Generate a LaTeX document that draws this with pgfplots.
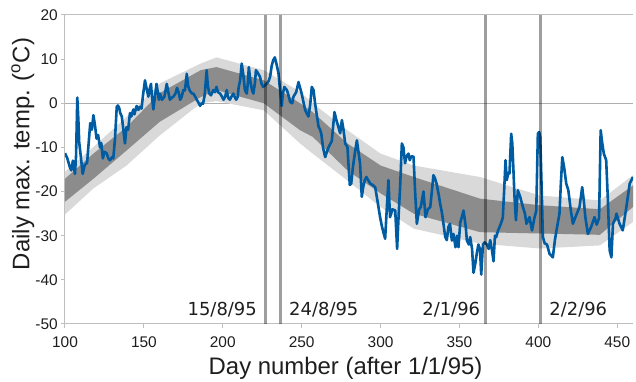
\documentclass[border=0pt]{standalone}
\usepackage{pgfplots}
\pgfplotsset{compat=1.18}
\usepackage{fontspec}
\setmainfont{Liberation Sans}
\newfontfamily\dvs{DejaVu Sans}
\definecolor{bandlight}{RGB}{217,217,217}
\definecolor{banddark}{RGB}{140,140,140}
\definecolor{tempblue}{RGB}{0,92,162}
\definecolor{axisgray}{RGB}{190,190,190}
\definecolor{refgray}{RGB}{175,175,175}
\definecolor{txt}{RGB}{30,30,30}
\begin{document}
\begin{tikzpicture}
\begin{axis}[
  name=ax,
  at={(0,0)}, anchor=south west,
  scale only axis, width=568bp, height=309bp,
  xmin=100, xmax=460, ymin=-50, ymax=20,
  axis x line*=bottom, axis y line*=left,
  axis line style={axisgray, line width=1bp},
  xtick={100,150,...,450}, xticklabels={100,150,200,250,300,350,400,450},
  ytick={-50,-40,...,20}, yticklabels={-50,-40,-30,-20,-10,0,10,20},
  tick align=outside, major tick length=4bp,
  tick style={axisgray, line width=1bp},
  ticklabel style={font=\fontsize{15.5}{18}\selectfont, text=txt},
  xticklabel style={anchor=base, yshift=-20bp},
  yticklabel style={anchor=east, inner sep=0pt, xshift=-3bp},
  xlabel={Day number (after 1/1/95)},
  ylabel={Daily max. temp. (\textsuperscript{o}C)},
  label style={font=\fontsize{24}{28}\selectfont, text=txt},
  xlabel style={at={(axis description cs:0.494,-0.165)}, anchor=base},
  ylabel style={at={(axis description cs:-0.074,0.55)}, anchor=center},
  clip=true,
]
% reference horizontal lines
\draw[refgray, line width=1bp] (axis cs:100,0) -- (axis cs:460,0);
\draw[axisgray, line width=1bp] (axis cs:100,20) -- (axis cs:460,20);
% light band (outer)
\addplot[fill=bandlight, draw=none] coordinates {
(100,-15.5) (118,-9.9) (139,-3.1) (160,4.5) (186,9.0) (196,10.4) (226,7.5) (249,2.6) (257,0.0) (279,-6.1) (300,-11.4) (321,-14.1) (363,-16.7) (401,-20.9) (439,-22.0) (460,-16.3)
(460,-26.9) (439,-32.2) (401,-32.9) (363,-31.8) (321,-28.4) (300,-23.5) (279,-17.5) (257,-11.4) (249,-9.1) (226,-1.6) (196,0.5) (186,0.0) (160,-7.3) (139,-14.1) (118,-19.3) (100,-25.2)
} -- cycle;
% dark band (inner)
\addplot[fill=banddark, draw=none] coordinates {
(100,-17.1) (118,-11.4) (139,-5.4) (160,2.3) (186,7.5) (196,8.2) (226,5.2) (249,0.0) (257,-2.0) (279,-9.1) (300,-14.1) (321,-16.7) (363,-21.6) (401,-23.1) (439,-24.0) (460,-18.6)
(460,-23.5) (439,-29.8) (401,-29.5) (363,-29.2) (321,-25.0) (300,-20.4) (279,-15.2) (257,-7.6) (249,-6.1) (226,0.0) (196,3.0) (186,1.4) (160,-4.2) (139,-10.7) (118,-17.1) (100,-22.3)
} -- cycle;
% daily maximum temperature
\addplot[tempblue, line width=2.6bp, line join=round] table {
x y
100 -11.3
101.5 -12.5
103 -14.4
104 -15.2
105 -13.0
106.3 -16.0
107 -12.0
107.8 1.3
108.5 -4
109 -8.8
110 -12
111.2 -16.0
112.5 -14.0
114 -13.5
116 -4.5
117 -6
118 -2.7
119 -5
120 -8.0
121 -7.2
122.2 -10.0
123 -9
124 -12.5
125 -11
126.4 -11.3
127.5 -12.5
128.5 -12.9
130 -12.2
130.6 -12.5
131.7 -8
132.8 -0.8
133.5 -0.5
134.3 -1.0
135 -2.2
136 -3
137 -6
138 -9.1
139 -5.4
140 -6
141.2 -2.2
142 -3
143.3 -1.4
144 -2.5
145.4 -0.6
146.5 -1.5
147.5 -0.8
148.5 -1.2
149.5 2
150.7 5.2
151.5 3.7
152.8 1.5
153.5 3
154.5 4.4
155 2
156 -1.4
157 1.5
158 4.4
158.6 3.0
159.5 0.8
160.2 2.2
161.5 0.8
163 1.5
164.5 4.4
165.5 2.5
166.5 0.8
167.5 1.2
168.7 1.5
170 2.2
171 3.5
172 2.5
173 0.8
174 1.5
175 3
176 2.9
177.2 6.7
178 4
179 2.9
180.5 2.2
181.4 2.2
182.5 1.5
183.5 0.8
184.5 0.2
185.6 -0.6
186.5 0
187.5 -0.1
188.5 1.8
189.8 7.5
190.5 4
191.5 2.2
192.5 1.8
194 3
195 2.5
196 3.7
197 2.5
198.3 2.2
199.5 1.5
200.5 0.8
201.5 1.5
202.5 3
203.5 1.2
204.5 0.8
205.5 1.5
206.7 2.2
207.5 1.5
208.5 0.8
209.5 1.5
210 3.5
211 5.2
212 9
213 6.5
214 3
215.2 2.2
216 5
216.5 8.2
217.5 5
218.5 3
219.4 2.2
220.5 5
221 7.5
222 7
223.6 6
224.5 4.5
225.5 3.7
226.5 4
227.9 4.4
229 5
230 6
231 8.5
232 9.8
233 10.4
234 9
235.3 6.8
236.3 3
237.4 -0.6
238 2
239 3.7
240.6 3
241.5 2
242.7 0.3
244 0
244.8 1.5
246.5 2.5
248 4.8
249 3.5
250 2.2
251 0.5
252.2 -1.5
253.5 -2.5
254.3 -3
255.5 0
256.4 3.7
257.5 3
258.5 0
259.5 -2.5
260.7 -5.3
261.7 -6
262.5 -7
263.5 -10
264.9 -12.2
266 -11
267 -10
269.1 -8.5
270 -5
270.8 -2
272 -3.8
273 -5
274.4 -6.8
275.5 -3.8
276.5 -6
277.6 -9.1
279 -9.9
279.7 -14
280.5 -18.5
281.4 -18.2
282.5 -14.4
284 -10.6
285 -8.4
286 -11
287 -13.6
288.1 -21.2
289 -19
290 -17.4
291 -16.7
292.3 -17.5
293.5 -18.2
295 -18.5
296.6 -19.0
298 -22
299.7 -25.8
301 -28.1
302.9 -30.7
304 -23.5
305 -17.4
306 -25.8
307.5 -24
309.3 -24.3
310.5 -33
311.5 -25
312.4 -19
313.5 -9.1
314.5 -10
315.5 -13.6
316.5 -12
317.7 -11.4
318.5 -12.9
319.5 -12
320.9 -12.1
321.9 -20
323 -27.3
324.5 -24
325.5 -23.5
327.2 -20
328.5 -25.8
330 -24
331.5 -23.5
332.5 -20
333.5 -16.3
334.5 -17
335.5 -18.2
337 -21
337.8 -22.8
339 -25
341 -30.3
342 -31
343 -28
344 -27.3
345.2 -31.1
346.2 -29.6
347.5 -32.6
348.5 -30
349.4 -32.6
350.5 -27
351.5 -25.8
352.6 -24.3
354 -28
354.7 -31.1
356 -32
356.8 -30.3
358 -33
358.9 -38.4
360 -36.4
361 -34
362 -32
363 -33
363.8 -38.8
364.9 -32
366 -31.5
367.4 -32
368.5 -33
369.5 -31
370.5 -33
371.6 -35.8
372.5 -30
373.3 -30.3
374.5 -28.8
375.8 -27.7
377 -26.5
377.5 -25.8
378.3 -20
379.2 -12.9
380 -17.4
381 -15.8
381.7 -15.9
382.8 -6.9
383.5 -9.1
384.2 -15
384.9 -21.2
385.8 -26.5
387 -19.7
388.5 -21.2
390.2 -23.5
391.5 -25
392.5 -27.3
394.4 -25.8
396 -28.8
397.5 -26
398.7 -24.3
399.7 -6.9
400.5 -6.5
401.2 -7.6
402 -18
402.9 -30.3
404 -31.7
405.5 -32
407.1 -34.1
409.2 -34.9
410.5 -31
411.5 -28.8
413.4 -25
414.3 -18
415.2 -12.2
416.3 -14.4
417.7 -18.2
419 -19.7
420.5 -24
421.9 -27.3
423.5 -25.8
426.1 -23.5
427.8 -19
428.8 -22
429.8 -25.8
431.4 -29.6
433.5 -28
435.6 -25.8
437 -27.5
438.5 -26
439.5 -6.1
440.5 -9
441.5 -11.4
443 -12.9
444 -21.2
445.2 -33.3
446.3 -34.9
447.3 -27.3
449 -26
449.5 -25
451.5 -27.3
453.5 -28.8
455.8 -23.5
457.9 -18.2
460 -16.7
};
% date markers
\addplot[black, opacity=0.38, line width=3bp] coordinates {(226.8,-50) (226.8,20)};
\addplot[black, opacity=0.38, line width=3bp] coordinates {(236.9,-50) (236.9,20)};
\addplot[black, opacity=0.38, line width=3bp] coordinates {(366.6,-50) (366.6,20)};
\addplot[black, opacity=0.38, line width=3bp] coordinates {(401.5,-50) (401.5,20)};
\node[anchor=base east, font=\dvs\fontsize{18}{21}\selectfont, text=txt, inner sep=0pt] at (axis cs:221.7,-48.1) {15/8/95};
\node[anchor=base west, font=\dvs\fontsize{18}{21}\selectfont, text=txt, inner sep=0pt] at (axis cs:242,-48.1) {24/8/95};
\node[anchor=base east, font=\dvs\fontsize{18}{21}\selectfont, text=txt, inner sep=0pt] at (axis cs:363.2,-48.1) {2/1/96};
\node[anchor=base west, font=\dvs\fontsize{18}{21}\selectfont, text=txt, inner sep=0pt] at (axis cs:406.9,-48.1) {2/2/96};
\end{axis}
\pgfresetboundingbox
\path[use as bounding box] ([xshift=-65bp,yshift=-58bp]ax.south west) rectangle ([xshift=3bp,yshift=15bp]ax.north east);
\end{tikzpicture}
\end{document}
